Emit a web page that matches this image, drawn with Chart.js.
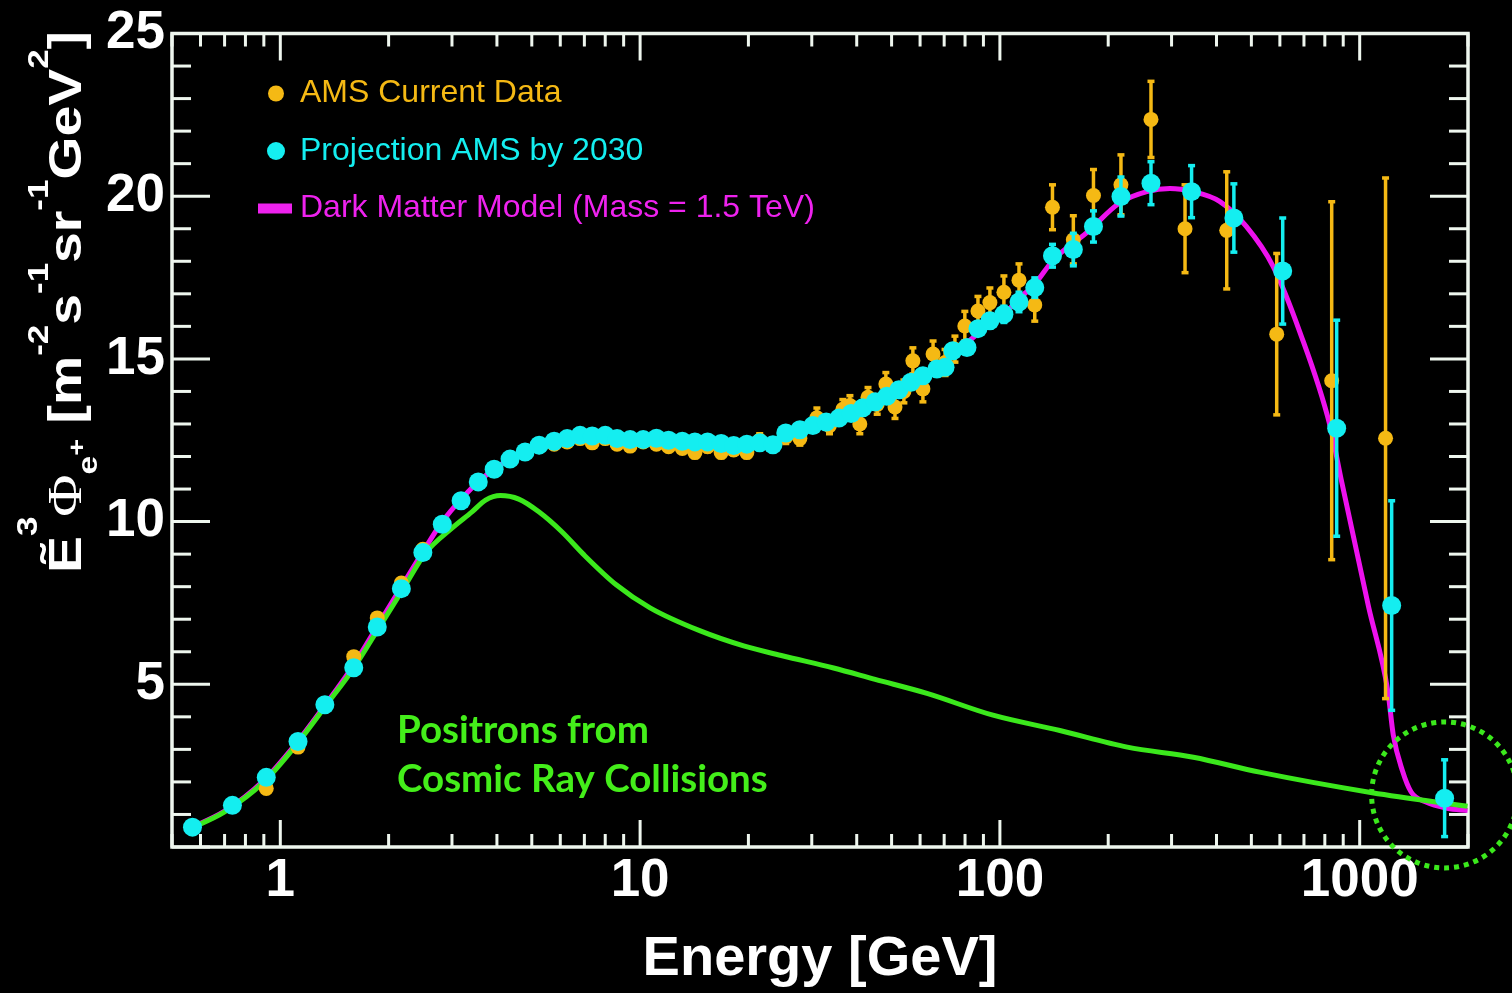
<!DOCTYPE html>
<html>
<head>
<meta charset="utf-8">
<script src="https://cdn.jsdelivr.net/npm/chart.js@4.4.1/dist/chart.umd.min.js"></script>
<style>
  html, body { margin: 0; padding: 0; background: #000; }
  #chart { display: block; }
</style>
</head>
<body>
<canvas id="chart" width="1512" height="993"></canvas>
<script>
// AMS current data (orange) - energy [GeV], value, error
const amsE = [0.57, 0.736, 0.914, 1.12, 1.33, 1.6, 1.86, 2.17, 2.49, 2.82, 3.18, 3.55, 3.93, 4.35, 4.79, 5.24, 5.77, 6.27, 6.81, 7.36,
    8.0, 8.63, 9.38, 10.2, 11.1, 12.0, 13.1, 14.2, 15.4, 16.8, 18.2, 19.8, 21.5, 23.4, 25.4, 27.8, 31.0, 33.6, 36.6, 38.3,
    40.8, 43.0, 45.6, 48.2, 51.1, 54.1, 57.3, 61.1, 65.2, 70.4, 75.0, 79.9, 86.9, 93.8, 102.6, 113, 125, 140, 160, 182,
    217, 263, 327, 427, 588, 836, 1180];
const amsV = [0.6, 1.3, 1.8, 3.07, 4.4, 5.85, 7.04, 8.11, 9.15, 9.95, 10.65, 11.2, 11.65, 11.95, 12.12, 12.3, 12.38, 12.45, 12.55, 12.42,
    12.55, 12.38, 12.32, 12.45, 12.38, 12.3, 12.25, 12.12, 12.3, 12.12, 12.2, 12.12, 12.5, 12.35, 12.6, 12.55, 13.19, 12.95, 13.45, 13.57,
    13.0, 13.82, 13.6, 14.23, 13.52, 14.0, 14.94, 14.08, 15.15, 14.89, 15.3, 16.01, 16.47, 16.73, 17.05, 17.42, 16.66, 19.66, 18.66, 20.02,
    20.35, 22.36, 19.0, 18.95, 15.76, 14.33, 12.56];
const amsErr = [0.05, 0.05, 0.06, 0.07, 0.08, 0.08, 0.08, 0.08, 0.08, 0.08, 0.08, 0.08, 0.08, 0.1, 0.1, 0.1, 0.1, 0.1, 0.1, 0.1,
    0.1, 0.1, 0.1, 0.1, 0.12, 0.12, 0.12, 0.15, 0.15, 0.15, 0.15, 0.15, 0.2, 0.2, 0.2, 0.2, 0.3, 0.25, 0.3, 0.3,
    0.3, 0.3, 0.3, 0.35, 0.35, 0.35, 0.4, 0.4, 0.4, 0.4, 0.4, 0.45, 0.45, 0.45, 0.5, 0.5, 0.5, 0.69, 0.74, 0.8,
    0.92, 1.17, 1.35, 1.8, 2.48, 5.5, 8.0];

// Projection AMS by 2030 (cyan)
const projE = [0.57, 0.736, 0.914, 1.12, 1.33, 1.6, 1.86, 2.17, 2.49, 2.82, 3.18, 3.55, 3.93, 4.35, 4.79, 5.24, 5.77, 6.27, 6.81, 7.36,
    8.0, 8.63, 9.38, 10.2, 11.1, 12.0, 13.1, 14.2, 15.4, 16.8, 18.2, 19.8, 21.5, 23.4, 25.4, 27.8, 30.2, 32.9, 35.7, 38.6,
    41.6, 45.0, 48.5, 52.4, 56.6, 61.1, 66.8, 70.4, 74.0, 81.0, 86.9, 93.8, 102.6, 113, 125, 140, 160, 182, 217, 263,
    341, 447, 611, 863, 1227, 1722];
const projV = [0.61, 1.28, 2.14, 3.24, 4.37, 5.51, 6.76, 7.94, 9.05, 9.92, 10.64, 11.22, 11.61, 11.92, 12.14, 12.35, 12.47, 12.55, 12.65, 12.63,
    12.65, 12.55, 12.52, 12.52, 12.56, 12.5, 12.47, 12.45, 12.45, 12.4, 12.34, 12.38, 12.42, 12.36, 12.72, 12.82, 12.95, 13.06, 13.18, 13.32,
    13.5, 13.68, 13.85, 14.05, 14.28, 14.48, 14.69, 14.74, 15.25, 15.35, 15.93, 16.17, 16.37, 16.75, 17.19, 18.17, 18.36, 19.07, 19.99, 20.4,
    20.14, 19.33, 17.7, 12.87, 7.42, 1.5];
const projErr = [0.05, 0.05, 0.05, 0.05, 0.05, 0.05, 0.05, 0.05, 0.05, 0.05, 0.05, 0.05, 0.05, 0.05, 0.05, 0.05, 0.05, 0.05, 0.05, 0.05,
    0.05, 0.05, 0.05, 0.05, 0.06, 0.06, 0.06, 0.06, 0.06, 0.07, 0.07, 0.07, 0.08, 0.08, 0.08, 0.08, 0.1, 0.1, 0.1, 0.1,
    0.1, 0.12, 0.12, 0.12, 0.15, 0.15, 0.15, 0.18, 0.18, 0.2, 0.2, 0.22, 0.25, 0.3, 0.3, 0.35, 0.5, 0.48, 0.6, 0.66,
    0.8, 1.05, 1.63, 3.32, 3.22, 1.18];

// Dark matter model (magenta)
const dmE = [0.545, 0.7, 0.9, 1.1, 1.35, 1.6, 1.9, 2.2, 2.5, 2.8, 3.2, 3.6, 4.0, 4.5, 5.0, 6.0, 7.0, 8.0, 10, 13,
    16, 20, 24, 28, 35, 45, 55, 65, 75, 90, 100, 113, 125, 141, 174, 215, 256, 297, 344, 408,
    484, 574, 681, 826, 892, 1058, 1197, 1240, 1314, 1390, 1523, 1750, 1995];
const dmV = [0.52, 1.1, 2.05, 3.15, 4.45, 5.6, 6.95, 8.1, 9.1, 9.95, 10.72, 11.28, 11.68, 12.02, 12.25, 12.5, 12.6, 12.6, 12.52, 12.45,
    12.4, 12.37, 12.42, 12.75, 13.1, 13.65, 14.2, 14.7, 15.2, 15.9, 16.25, 16.85, 17.3, 18.05, 18.87, 19.79, 20.14, 20.24, 20.14, 19.84,
    19.07, 17.85, 15.84, 12.97, 11.2, 7.39, 4.8, 3.44, 2.35, 1.69, 1.39, 1.19, 1.12];

// Positrons from cosmic ray collisions (green)
const bgE = [0.545, 0.7, 0.9, 1.1, 1.35, 1.6, 1.9, 2.2, 2.53, 3.0, 3.41, 3.72, 4.09, 4.6, 5.23, 6.07, 6.95, 8.6, 10.66, 14.7,
    19.4, 25.0, 34.5, 45.0, 62.7, 95.7, 146.8, 226, 345, 527, 1083, 1995];
const bgV = [0.5, 1.08, 2.0, 3.1, 4.4, 5.5, 6.82, 7.95, 9.03, 9.8, 10.3, 10.66, 10.8, 10.69, 10.3, 9.68, 9.0, 8.05, 7.35, 6.64,
    6.18, 5.87, 5.5, 5.15, 4.72, 4.05, 3.58, 3.07, 2.76, 2.3, 1.67, 1.25];

const xLabelTicks = [1, 10, 100, 1000];
const yLabelTicks = [5, 10, 15, 20, 25];

const ORANGE = '#f5b914';
const CYAN = '#14eef0';
const MAGENTA = '#ee11ee';
const GREEN = '#3be81c';
const FRAME = '#eef6ee';

const toXY = (xs, ys) => xs.map((x, i) => ({ x: x, y: ys[i] }));

function line(ctx, x1, y1, x2, y2) {
    ctx.beginPath();
    ctx.moveTo(x1, y1);
    ctx.lineTo(x2, y2);
    ctx.stroke();
}

// error bars, drawn under the markers of each dataset
const errorBars = {
    id: 'errorBars',
    beforeDatasetDraw(chart, args) {
        const ds = chart.data.datasets[args.index];
        if (!ds.errors) return;
        const { ctx } = chart;
        const y = chart.scales.y;
        ctx.save();
        ctx.strokeStyle = ds.backgroundColor;
        ctx.lineWidth = 3.5;
        args.meta.data.forEach((pt, i) => {
            const e = ds.errors[i];
            const v = ds.data[i].y;
            const yTop = y.getPixelForValue(v + e);
            const yBot = y.getPixelForValue(v - e);
            if (yBot - yTop < 4) return;
            line(ctx, pt.x, yTop, pt.x, yBot);
            line(ctx, pt.x - 3.5, yTop, pt.x + 3.5, yTop);
            line(ctx, pt.x - 3.5, yBot, pt.x + 3.5, yBot);
        });
        ctx.restore();
    }
};

// frame with inward ticks on all four sides
const frameTicks = {
    id: 'frameTicks',
    beforeDatasetsDraw(chart) {
        const { ctx, chartArea: a, scales: { x, y } } = chart;
        ctx.save();
        ctx.strokeStyle = FRAME;
        ctx.lineWidth = 3;
        for (let p = -1; p <= 3; p++) {
            for (let k = 1; k <= 9; k++) {
                const v = k * Math.pow(10, p);
                if (v < x.min || v > x.max) continue;
                const px = x.getPixelForValue(v);
                const len = k === 1 ? 27 : 13;
                line(ctx, px, a.bottom, px, a.bottom - len);
                line(ctx, px, a.top, px, a.top + len);
            }
        }
        for (let v = 0; v <= 25; v++) {
            const py = y.getPixelForValue(v);
            const len = v % 5 === 0 ? 38 : 19;
            line(ctx, a.left, py, a.left + len, py);
            line(ctx, a.right, py, a.right - len, py);
        }
        ctx.lineWidth = 3.5;
        ctx.strokeRect(a.left, a.top, a.right - a.left, a.bottom - a.top);
        ctx.restore();
    }
};

function drawYTitle(ctx) {
    const parts = [
        { t: 'Ẽ', f: 'bold 46px "Liberation Sans"', dy: 0 },
        { t: '3', f: 'bold 29px "Liberation Sans"', dy: -44 },
        { t: 'Φ', f: '48px "Liberation Serif"', dy: 0 },
        { t: 'e', f: 'bold 28px "Liberation Sans"', dy: 16 },
        { t: '+', f: 'bold 24px "Liberation Sans"', dy: 4 },
        { t: ' [m', f: 'bold 46px "Liberation Sans"', dy: 0 },
        { t: '-2', f: 'bold 29px "Liberation Sans"', dy: -33 },
        { t: 's', f: 'bold 46px "Liberation Sans"', dy: 0 },
        { t: '-1', f: 'bold 29px "Liberation Sans"', dy: -33 },
        { t: 'sr', f: 'bold 46px "Liberation Sans"', dy: 0 },
        { t: '-1', f: 'bold 29px "Liberation Sans"', dy: -33 },
        { t: 'GeV', f: 'bold 46px "Liberation Sans"', dy: 0 },
        { t: '2', f: 'bold 29px "Liberation Sans"', dy: -33 },
        { t: ']', f: 'bold 46px "Liberation Sans"', dy: 0 }
    ];
    ctx.save();
    let total = 0;
    parts.forEach(p => { ctx.font = p.f; p.w = ctx.measureText(p.t).width; total += p.w; });
    const k = 542 / total;
    ctx.translate(81, 573);
    ctx.rotate(-Math.PI / 2);
    ctx.scale(k, 1);
    ctx.fillStyle = '#ffffff';
    ctx.textBaseline = 'alphabetic';
    ctx.textAlign = 'left';
    let cx = 0;
    parts.forEach(p => {
        ctx.font = p.f;
        ctx.fillText(p.t, cx, p.dy);
        cx += p.w;
    });
    ctx.restore();
}

const legendItems = [
    { label: 'AMS Current Data', color: ORANGE, kind: 'dot', r: 8 },
    { label: 'Projection AMS by 2030', color: CYAN, kind: 'dot', r: 9 },
    { label: 'Dark Matter Model (Mass = 1.5 TeV)', color: '#ee22ee', kind: 'bar' }
];

const overlay = {
    id: 'overlay',
    afterDraw(chart) {
        const { ctx, chartArea: a, scales: { x, y } } = chart;
        ctx.save();

        // legend
        ctx.font = '32px "Liberation Sans"';
        ctx.textBaseline = 'middle';
        ctx.textAlign = 'left';
        legendItems.forEach((it, i) => {
            const cy = a.top + 60 + i * 57.5;
            ctx.fillStyle = it.color;
            if (it.kind === 'dot') {
                ctx.beginPath();
                ctx.arc(a.left + 104, cy, it.r, 0, Math.PI * 2);
                ctx.fill();
            } else {
                ctx.fillRect(a.left + 86, cy - 5, 34, 10);
            }
            ctx.fillText(it.label, a.left + 128, cy);
        });

        // annotation text
        ctx.fillStyle = '#44ee1a';
        let size = 36;
        ctx.font = 'bold ' + size + 'px Lato';
        size = size * 371 / ctx.measureText('Cosmic Ray Collisions').width;
        ctx.font = 'bold ' + size.toFixed(1) + 'px Lato';
        ctx.fillText('Positrons from', 397, 731);
        ctx.fillText('Cosmic Ray Collisions', 397, 780);

        // dotted circle round the last projected point
        ctx.strokeStyle = GREEN;
        ctx.lineWidth = 5;
        ctx.setLineDash([5, 5]);
        ctx.beginPath();
        ctx.arc(x.getPixelForValue(projE[projE.length - 1]), y.getPixelForValue(1.6), 73, 0, Math.PI * 2);
        ctx.stroke();
        ctx.setLineDash([]);

        drawYTitle(ctx);
        ctx.restore();
    }
};

new Chart(document.getElementById('chart'), {
    type: 'scatter',
    data: {
        datasets: [
            {
                label: 'Projection AMS by 2030',
                data: toXY(projE, projV),
                errors: projErr,
                backgroundColor: CYAN,
                borderWidth: 0,
                pointRadius: 9.5
            },
            {
                label: 'AMS Current Data',
                data: toXY(amsE, amsV),
                errors: amsErr,
                backgroundColor: ORANGE,
                borderWidth: 0,
                pointRadius: 7.5
            },
            {
                label: 'Positrons from Cosmic Ray Collisions',
                data: toXY(bgE, bgV),
                showLine: true,
                borderColor: GREEN,
                borderWidth: 5,
                pointRadius: 0,
                cubicInterpolationMode: 'monotone'
            },
            {
                label: 'Dark Matter Model (Mass = 1.5 TeV)',
                data: toXY(dmE, dmV),
                showLine: true,
                borderColor: MAGENTA,
                borderWidth: 5,
                pointRadius: 0,
                cubicInterpolationMode: 'monotone'
            }
        ]
    },
    options: {
        responsive: false,
        animation: false,
        events: [],
        layout: { padding: { top: 29, right: 44, left: 0, bottom: 0 } },
        scales: {
            x: {
                type: 'logarithmic',
                min: 0.5,
                max: 2000,
                grid: { display: false, drawTicks: false },
                border: { display: false },
                afterFit: (s) => { s.height = 146; },
                ticks: {
                    autoSkip: false,
                    maxRotation: 0,
                    padding: 3,
                    color: '#ffffff',
                    font: { family: '"Liberation Sans"', size: 53, weight: 'bold' },
                    callback: (v) => xLabelTicks.some(t => Math.abs(t - v) < 1e-6 * t) ? String(Math.round(v)) : ''
                },
                title: {
                    display: true,
                    text: 'Energy [GeV]',
                    color: '#ffffff',
                    padding: { top: 0, bottom: 0 },
                    font: { family: '"Liberation Sans"', size: 56, weight: 'bold' }
                }
            },
            y: {
                min: 0,
                max: 25,
                grid: { display: false, drawTicks: false },
                border: { display: false },
                afterFit: (s) => { s.width = 172; },
                ticks: {
                    stepSize: 5,
                    padding: 7,
                    color: '#ffffff',
                    font: { family: '"Liberation Sans"', size: 53, weight: 'bold', lineHeight: 1 },
                    callback: (v) => yLabelTicks.includes(v) ? String(v) : ''
                }
            }
        },
        plugins: {
            legend: { display: false },
            tooltip: { enabled: false }
        }
    },
    plugins: [frameTicks, errorBars, overlay]
});
</script>
</body>
</html>
